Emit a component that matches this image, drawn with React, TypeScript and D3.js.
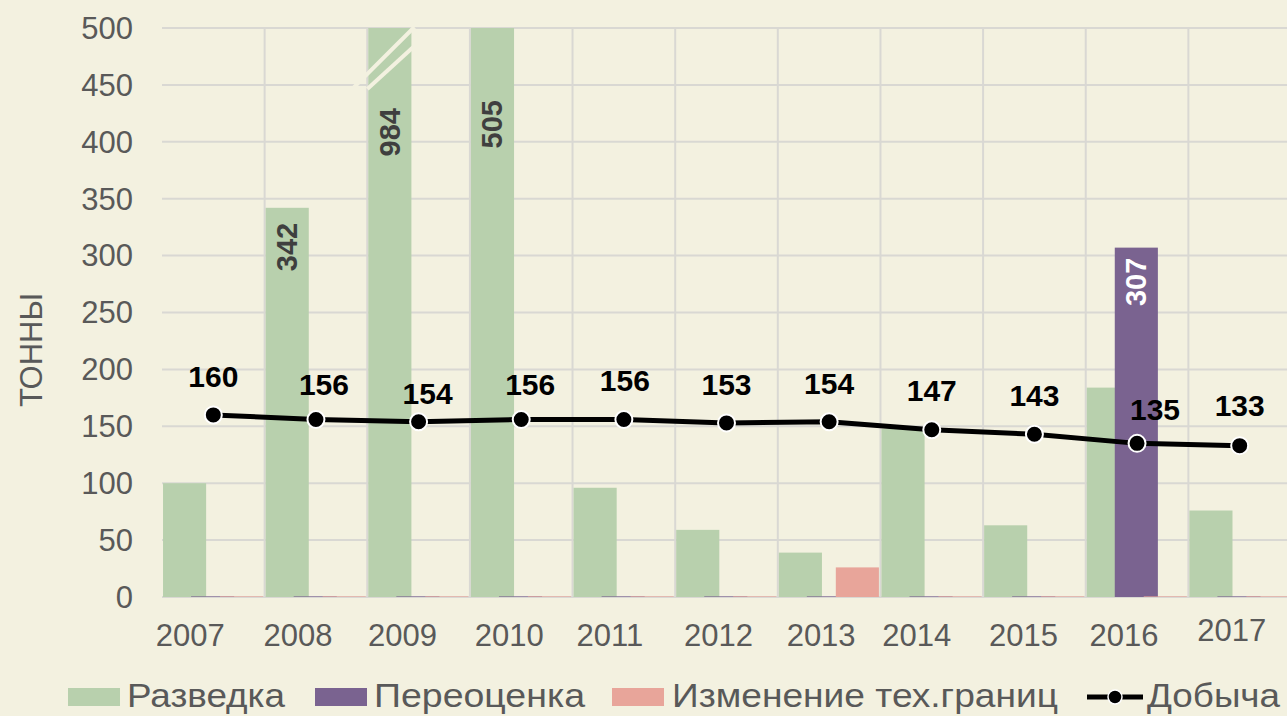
import React from "react";
import * as d3 from "d3";

// ---- data ----
const years = ["2007", "2008", "2009", "2010", "2011", "2012", "2013", "2014", "2015", "2016", "2017"];
const razvedka = [100, 342, 984, 505, 96, 59, 39, 148, 63, 184, 76];
const pereocenka = [0, 0, 0, 0, 0, 0, 0, 0, 0, 307, 0];
const izmenenie = [0, 0, 0, 0, 0, 0, 26, 0, 0, 0, 0];
const dobycha = [160, 156, 154, 156, 156, 153, 154, 147, 143, 135, 133];
const yTicks = [0, 50, 100, 150, 200, 250, 300, 350, 400, 450, 500];
const barLabelYears = ["2008", "2009", "2010", "2016"];
const seriesNames = ["Разведка", "Переоценка", "Изменение тех.границ", "Добыча"];

// ---- layout / style ----
const W = 1287, H = 716;
const M = { left: 162, right: 1291, top: 28, bottom: 597 };
const BG = "#f3f1e0";
const GRID = "#d9d8d3";
const C_GREEN = "#b8d0ad";
const C_PURPLE = "#7a6390";
const C_PINK = "#e8a59a";
const TXT = "#595959";
const FONT = "'Liberation Sans', Arial, sans-serif";

// label nudges (px) for line labels, axis labels, bar labels
const lineLabelDx = [0, 8, 9, 9, 1, 0, 0, 0, 0, 18, 0];
const lineLabelDy = [-28, -24, -18, -24, -28, -28, -28, -29, -28, -23, -30];
const xLabelDx = [-23, -18, -16, -12, -14, -8, -8, -15, -11, -13, -8];
const xLabelDy = [0, 0, 0, 0, 0, 0, 0, 0, 0, 0, -5];
const barLabelOffset: Record<string, number> = { "2008": 15, "2009": 80, "2010": 72, "2016": 10 };

export default function App() {
  const x = d3.scaleBand<string>().domain(years).range([M.left, M.right]).padding(0);
  const y = d3.scaleLinear().domain([0, 500]).range([M.bottom, M.top]);
  const bw = x.bandwidth();
  const barW = bw * 0.42;
  const offs = [bw * 0.01, bw * 0.283, bw * 0.565];
  const series = [
    { vals: razvedka, color: C_GREEN },
    { vals: pereocenka, color: C_PURPLE },
    { vals: izmenenie, color: C_PINK },
  ];
  const cx = (i: number) => (x(years[i]) as number) + bw / 2;
  const line = d3
    .line<number>()
    .x((_, i) => cx(i))
    .y((d) => y(d));

  // break mark on 2009 bar
  const i09 = years.indexOf("2009");
  const b0 = (x(years[i09]) as number) + offs[0];
  const b1 = b0 + barW;

  const legendItems = [
    { sx: 68, tx: 127, tw: 158, color: C_GREEN, type: "rect" },
    { sx: 315, tx: 374, tw: 211, color: C_PURPLE, type: "rect" },
    { sx: 612, tx: 672, tw: 386, color: C_PINK, type: "rect" },
    { sx: 1087, tx: 1147, tw: 133, color: "#000", type: "line" },
  ];

  return (
    <svg
      width={W}
      height={H}
      style={{ position: "absolute", left: 0, top: 0, fontFamily: FONT }}
    >
      <rect x={0} y={0} width={W} height={H} fill={BG} />
      {/* horizontal grid */}
      {yTicks.map((t) => (
        <line key={"h" + t} x1={M.left} x2={M.right} y1={y(t)} y2={y(t)} stroke={GRID} strokeWidth={2} />
      ))}
      {/* vertical grid */}
      {years.slice(1).map((yr) => (
        <line
          key={"v" + yr}
          x1={x(yr) as number}
          x2={x(yr) as number}
          y1={M.top}
          y2={M.bottom}
          stroke={GRID}
          strokeWidth={2}
        />
      ))}
      {/* bars */}
      {series.map((s, si) =>
        s.vals.map((v, i) => {
          const vv = Math.min(v, 500);
          const top = y(vv);
          const h = Math.max(M.bottom - top, 1);
          return (
            <rect
              key={si + "-" + i}
              x={(x(years[i]) as number) + offs[si]}
              y={M.bottom - h}
              width={barW}
              height={h}
              fill={s.color}
              opacity={v === 0 ? 0.6 : 1}
            />
          );
        })
      )}
      {/* break mark */}
      <line x1={b0 - 16} y1={y(450) + 4} x2={b1 + 3} y2={y(500) - 1} stroke={BG} strokeWidth={4} />
      <line x1={b0 - 1} y1={y(450) + 4} x2={b1 + 3} y2={y(500) + 18} stroke={BG} strokeWidth={4} />
      {/* y tick labels */}
      {yTicks.map((t) => (
        <text key={"yt" + t} x={133} y={y(t)} dy="0.35em" textAnchor="end" fontSize={31} fill={TXT}>
          {t}
        </text>
      ))}
      {/* y title */}
      <text
        transform={`translate(${42},${350}) rotate(-90)`}
        textAnchor="middle"
        fontSize={31}
        fill={TXT}
      >
        ТОННЫ
      </text>
      {/* x labels */}
      {years.map((yr, i) => (
        <text key={"xl" + yr} x={cx(i) + xLabelDx[i]} y={646 + xLabelDy[i]} textAnchor="middle" fontSize={31} fill={TXT}>
          {yr}
        </text>
      ))}
      {/* bar labels */}
      {barLabelYears.map((yr) => {
        const i = years.indexOf(yr);
        const isPurple = pereocenka[i] > 0;
        const v = isPurple ? pereocenka[i] : razvedka[i];
        const si = isPurple ? 1 : 0;
        const bx = (x(yr) as number) + offs[si] + barW / 2;
        const ty = y(Math.min(v, 500)) + barLabelOffset[yr];
        return (
          <text
            key={"bl" + yr}
            transform={`translate(${bx + 10},${ty}) rotate(-90)`}
            textAnchor="end"
            fontSize={29}
            fontWeight="bold"
            fill={isPurple ? "#ffffff" : "#3f3f3f"}
          >
            {v}
          </text>
        );
      })}
      {/* line */}
      <path d={line(dobycha) || ""} fill="none" stroke="#000" strokeWidth={5} strokeLinejoin="round" />
      {dobycha.map((v, i) => (
        <circle key={"m" + i} cx={cx(i)} cy={y(v)} r={8.5} fill="#000" stroke="#fff" strokeWidth={2} />
      ))}
      {dobycha.map((v, i) => (
        <text
          key={"ll" + i}
          x={cx(i) + lineLabelDx[i]}
          y={y(v) + lineLabelDy[i]}
          textAnchor="middle"
          fontSize={30}
          fontWeight="bold"
          fill="#000"
        >
          {v}
        </text>
      ))}
      {/* legend */}
      {legendItems.map((it, k) => (
        <g key={"lg" + k}>
          {it.type === "rect" ? (
            <rect x={it.sx} y={688} width={52} height={18} fill={it.color} />
          ) : (
            <g>
              <line x1={it.sx} x2={it.sx + 56} y1={697} y2={697} stroke="#000" strokeWidth={5} />
              <circle cx={it.sx + 28} cy={697} r={7} fill="#000" stroke="#fff" strokeWidth={1.5} />
            </g>
          )}
          <text
            x={it.tx}
            y={707}
            fontSize={33}
            fill={TXT}
            textLength={it.tw}
            lengthAdjust="spacingAndGlyphs"
          >
            {seriesNames[k]}
          </text>
        </g>
      ))}
    </svg>
  );
}
